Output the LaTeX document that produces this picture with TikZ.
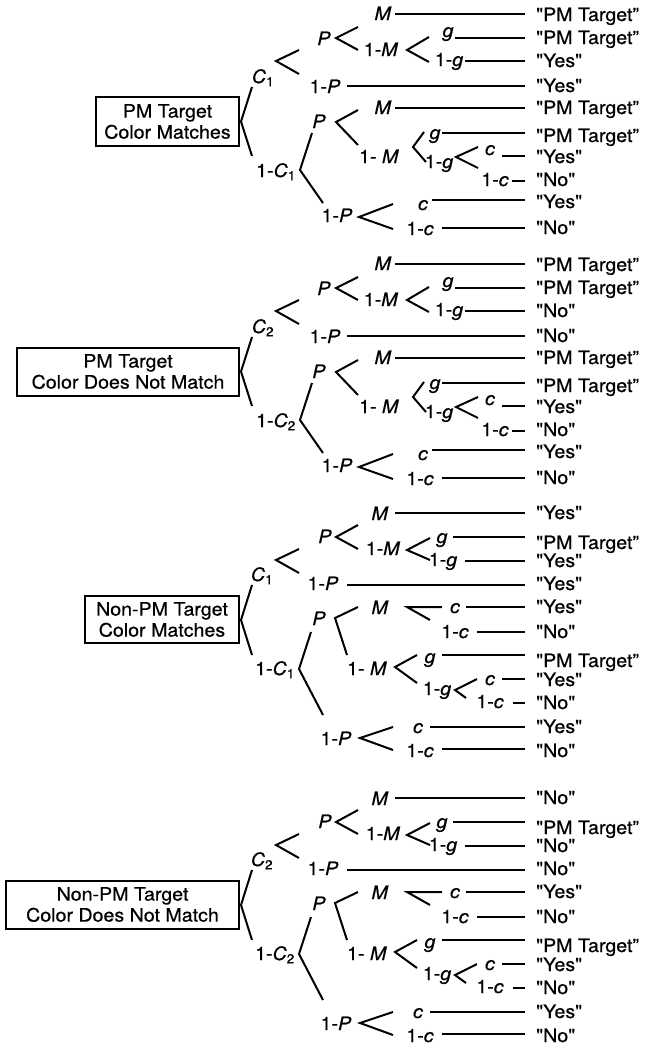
\documentclass[tikz,border=0pt]{standalone}
\usepackage{fontspec}
\setmainfont{TeX Gyre Heros}[FakeStretch=1.06, FakeBold=0.6, Ligatures=TeXOff]
\newcommand\PMT{"PM Target”}
\newcommand\Cs[1]{{\itshape C}\textsubscript{#1}}
\tikzset{
  br/.style={line width=2pt},
  lab/.style={inner sep=0pt, anchor=base},
  leaf/.style={inner sep=0pt, anchor=base west},
  tbox/.style={draw, line width=2pt, align=center, inner sep=0pt, anchor=east},
  tolf/.style={br, shorten >=11pt},
}
% fork drawn as "<" : prefix+name  vertex  up  down
\newcommand\fork[4]{%
  \coordinate (#1v) at #2; \coordinate (#1u) at #3; \coordinate (#1d) at #4;
  \draw[br] (#1u) -- (#1v) -- (#1d);}
\newcommand\TreeA[5]{% prefix, subscript, box text, box width, box height
  \node[tbox, minimum width=#4, minimum height=#5] (#1box) at (240,121.5) {#3};
  \fork{#1f}{(241,121.5)}{(252,87)}{(252,156)}
  \node[lab] (#1C) at (263,83) {\Cs{#2}};
  \fork{#1a}{(276,61)}{(299,50)}{(299,74)}
  \node[lab] (#1P) at (324,45) {\textit{P}};
  \fork{#1b}{(336,38)}{(358,27)}{(358,50)}
  \node[lab] (#1M) at (383,20) {\textit{M}};
  \node[lab] (#1nM) at (381,56) {1-\textit{M}};
  \fork{#1c}{(407,50)}{(429,37)}{(429,62)}
  \node[lab] (#1g) at (448,37) {\textit{g}};
  \node[lab] (#1ng) at (449,66) {1-\textit{g}};
  \node[lab] (#1nP) at (325,93) {1-\textit{P}};
  \node[lab] (#1nC) at (276,177) {1-\Cs{#2}};
  \fork{#1d}{(300,170)}{(312,133)}{(323,203)}
  \node[lab] (#1Pb) at (319,128) {\textit{P}};
  \fork{#1e}{(336,122)}{(358,110)}{(358,145)}
  \node[lab] (#1Mb) at (383,114) {\textit{M}};
  \node[lab] (#1nMb) at (379,163) {1- \textit{M}};
  \fork{#1h}{(413,147)}{(424,132)}{(426,162)}
  \node[lab] (#1gb) at (435,139) {\textit{g}};
  \node[lab] (#1ngb) at (439,168) {1-\textit{g}};
  \fork{#1i}{(456,157)}{(478,147)}{(478,168)}
  \node[lab] (#1cb) at (490,155) {\textit{c}};
  \node[lab] (#1ncb) at (495,186) {1-\textit{c}};
  \node[lab] (#1nPb) at (337,222) {1-\textit{P}};
  \fork{#1j}{(359,217)}{(393,204)}{(393,229)}
  \node[lab] (#1cc) at (423,210) {\textit{c}};
  \node[lab] (#1ncc) at (420,235) {1-\textit{c}};
}
\newcommand\TreeB[5]{% prefix, subscript, box text, box width, box height
  \node[tbox, minimum width=#4, minimum height=#5] (#1box) at (240,619.5) {#3};
  \fork{#1f}{(241,620)}{(252,585)}{(252,655)}
  \node[lab] (#1C) at (262,581) {\Cs{#2}};
  \fork{#1a}{(276,560)}{(299,549)}{(299,573)}
  \node[lab] (#1P) at (325,543) {\textit{P}};
  \fork{#1b}{(336,537)}{(358,525)}{(358,549)}
  \node[lab] (#1M) at (380,520) {\textit{M}};
  \node[lab] (#1nM) at (383,555) {1-\textit{M}};
  \fork{#1c}{(407,550)}{(430,538)}{(430,560)}
  \node[lab] (#1g) at (442,543) {\textit{g}};
  \node[lab] (#1ng) at (443,566) {1-\textit{g}};
  \node[lab] (#1nP) at (323,590) {1-\textit{P}};
  \node[lab] (#1nC) at (275,675) {1-\Cs{#2}};
  \fork{#1d}{(299,669)}{(311,632)}{(323,715)}
  \node[lab] (#1Pb) at (319,625) {\textit{P}};
  \fork{#1e}{(335,618)}{(358,607)}{(347,655)}
  \node[lab] (#1Mb) at (380,614) {\textit{M}};
  \fork{#1h}{(407,607)}{(442,607)}{(430,620)}
  \node[lab] (#1cb) at (455,613) {\textit{c}};
  \node[lab] (#1ncb) at (455,638) {1-\textit{c}};
  \node[lab] (#1nMb) at (367,675) {1- \textit{M}};
  \fork{#1i}{(395,667)}{(417,655)}{(417,683)}
  \node[lab] (#1gb) at (430,663) {\textit{g}};
  \node[lab] (#1ngb) at (437,695) {1-\textit{g}};
  \fork{#1j}{(455,690)}{(477,679)}{(466,698)}
  \node[lab] (#1cc) at (490,685) {\textit{c}};
  \node[lab] (#1ncc) at (490,708) {1-\textit{c}};
  \node[lab] (#1nPb) at (336,745) {1-\textit{P}};
  \fork{#1k}{(360,738)}{(393,727)}{(393,750)}
  \node[lab] (#1cd) at (418,733) {\textit{c}};
  \node[lab] (#1ncd) at (420,757) {1-\textit{c}};
}
\newcommand\leaves[2]{% prefix, list sx/ly/by/label
  \foreach \sx/\ly/\by/\lab [count=\i] in {#2} {
    \node[leaf] (#1L\i) at (536,\by) {\lab};
    \coordinate (#1s\i) at (\sx,\ly);
    \draw[tolf] (#1s\i) -- (#1s\i -| #1L\i.west);
  }}
\begin{document}
\begin{tikzpicture}[x=1pt, y=-1pt, font=\fontsize{18.5}{21}\selectfont]
\useasboundingbox (0,0) rectangle (649,1050);
% Section 1
\TreeA{A}{1}{PM Target\\Color Matches}{143}{49}
\leaves{A}{395/14/21/\PMT, 455/38/44/\PMT, 465/61/67/"Yes", 347/86/92/"Yes",
  395/108/114/\PMT, 442/133/142/\PMT, 502/156/163/"Yes", 512/181/186/"No",
  432/200/208/"Yes", 442/228/234/"No"}
% Section 2
\begin{scope}[shift={(0,250)}]
\TreeA{B}{2}{PM Target\\Color Does Not Match}{222}{48}
\leaves{B}{395/14/21/\PMT, 455/38/44/\PMT, 465/61/67/"No", 347/86/92/"No",
  395/108/114/\PMT, 442/133/142/\PMT, 502/156/163/"Yes", 512/181/186/"No",
  432/200/208/"Yes", 442/228/234/"No"}
\end{scope}
% Section 3
\TreeB{C}{1}{Non-PM Target\\Color Matches}{154}{47}
\leaves{C}{395/513/519/"Yes", 453/537/549/\PMT, 465/561/567/"Yes", 347/585/590/"Yes",
  466/607/613/"Yes", 477/632/638/"No", 442/655/667/\PMT, 502/679/686/"Yes",
  513/703/709/"No", 430/727/733/"Yes", 442/749/757/"No"}
% Section 4
\begin{scope}[shift={(0,285)}]
\TreeB{D}{2}{Non-PM Target\\Color Does Not Match}{233}{48}
\leaves{D}{395/513/519/"No", 453/537/549/\PMT, 465/561/567/"No", 347/585/590/"No",
  466/607/613/"Yes", 477/632/638/"No", 442/655/667/\PMT, 502/679/686/"Yes",
  513/703/709/"No", 430/727/733/"Yes", 442/749/757/"No"}
\end{scope}
\end{tikzpicture}
\end{document}
